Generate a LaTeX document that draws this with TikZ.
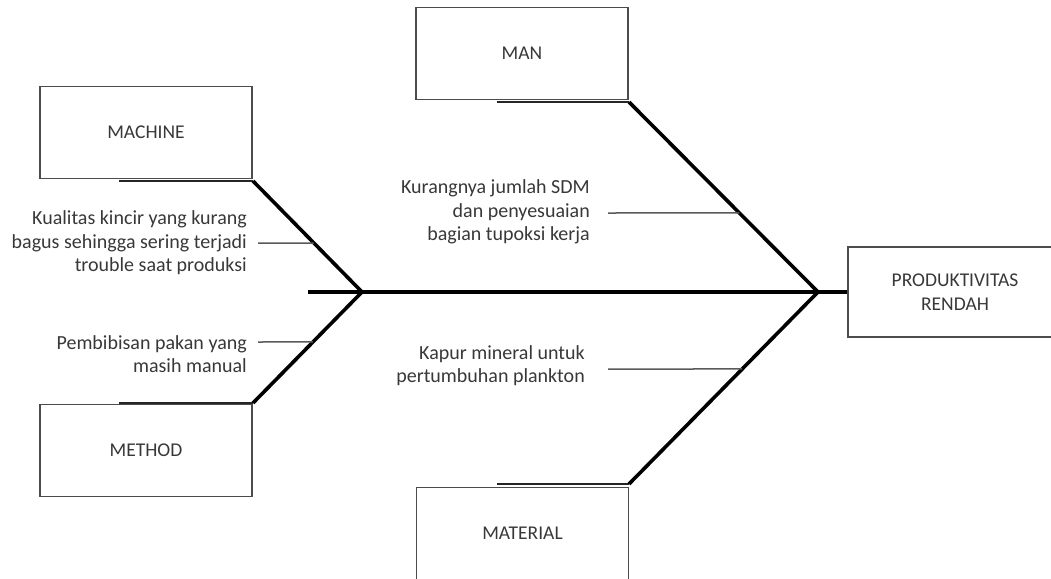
\documentclass[tikz,border=0pt]{standalone}
\usepackage{fontspec}
\setmainfont{Carlito}
\usetikzlibrary{calc}

\begin{document}
\begin{tikzpicture}[x=1pt, y=-1pt, line join=miter]
  % styles
  \tikzset{
    catbox/.style={draw=black!70, line width=1.8pt, minimum width=212pt, minimum height=92pt,
      inner sep=0pt, text=black!78, font=\fontsize{19.5}{24}\selectfont},
    bone/.style={black, line width=3.6pt},
    shelf/.style={black!85, line width=2.6pt},
    twig/.style={black!65, line width=1.5pt},
    cause/.style={align=right, anchor=east, inner sep=0pt, text=black!78,
      font=\fontsize{20}{23.5}\selectfont}
  }

  % ----- frame -----
  \useasboundingbox (0,0) rectangle (1051,578);
  \clip (0,0) rectangle (1051,578);

  % ----- category boxes -----
  \node[catbox] (machine)  at (146,132.5) {MACHINE};
  \node[catbox] (method)   at (146,450.5) {METHOD};
  \node[catbox] (man)      at (522,53.5)  {MAN};
  \node[catbox] (material) at (522.5,533.5) {MATERIAL};
  \node[catbox, minimum width=214pt, minimum height=90pt, align=center]
       (effect) at (955,292) {PRODUKTIVITAS\\RENDAH};

  % ----- spine & joints -----
  \coordinate (tail) at (308,292);
  \coordinate (jl) at (362,292);
  \coordinate (jr) at (818,292);
  \draw[bone] (tail) -- (effect.west);

  % shelf ends (under / over the boxes)
  \coordinate (machine-s)  at (119,181);
  \coordinate (machine-b)  at (253,181);
  \coordinate (method-s)   at (119,403);
  \coordinate (method-b)   at (253,403);
  \coordinate (man-s)      at (497,102);
  \coordinate (man-b)      at (629,102);
  \coordinate (material-s) at (497,484);
  \coordinate (material-b) at (629,484);

  \foreach \b in {machine,method,man,material}
    \draw[shelf] (\b-s) -- (\b-b);

  % bones
  \draw[bone] (machine-b) -- (jl) -- (method-b);
  \draw[bone] (man-b) -- (jr) -- (material-b);

  % ----- causes -----
  \node[cause] (cmachine) at (247,243)
    {Kualitas kincir yang kurang\\bagus sehingga sering terjadi\\trouble saat produksi};
  \node[cause] (cmethod) at (247,354)
    {Pembibisan pakan yang\\masih manual};
  \node[cause] (cman) at (590,212)
    {Kurangnya jumlah SDM\\dan penyesuaian\\bagian tupoksi kerja};
  \node[cause] (cmaterial) at (585,365.5)
    {Kapur mineral untuk\\pertumbuhan plankton};

  % twigs from the causes to the bones
  \coordinate (tmachine)  at (258,243);
  \coordinate (tmethod)   at (258,342);
  \coordinate (tman)      at (608,213);
  \coordinate (tmaterial) at (608,369);
  \draw[twig] (tmachine)  -- ($(machine-b)!0.559!(jl)$);
  \draw[twig] (tmethod)   -- ($(method-b)!0.55!(jl)$);
  \draw[twig] (tman)      -- ($(man-b)!0.584!(jr)$);
  \draw[twig] (tmaterial) -- ($(material-b)!0.599!(jr)$);
\end{tikzpicture}
\end{document}
